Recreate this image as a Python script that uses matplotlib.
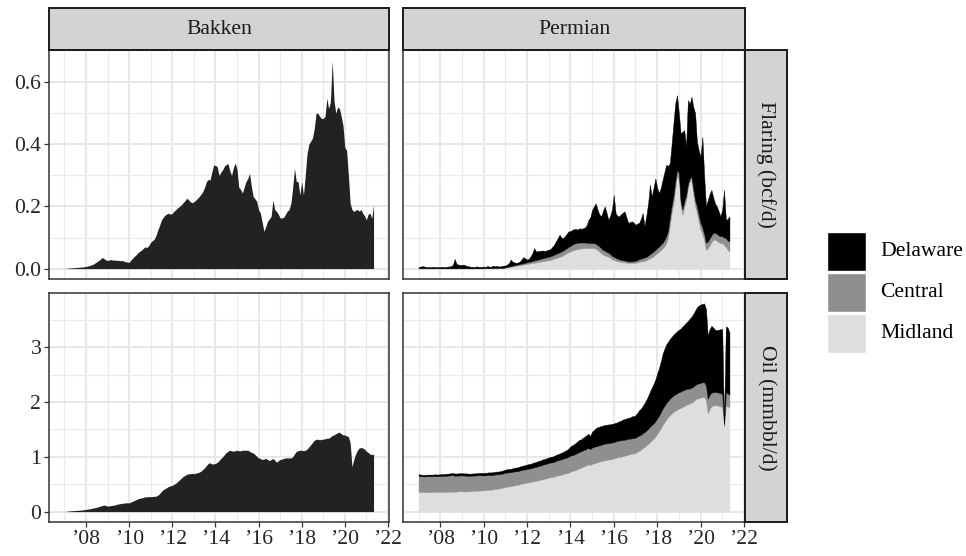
import numpy as np
import matplotlib.pyplot as plt
from matplotlib.patches import Rectangle

plt.rcParams['font.family'] = ['Liberation Serif', 'DejaVu Serif']

# monthly observations, Jan 2007 - May 2021
months = 2007 + np.arange(173) / 12

bakken_flaring = [
    0.000, 0.001, 0.001, 0.002, 0.002, 0.003, 0.003, 0.004, 0.004, 0.005, 0.005, 0.006,
    0.007, 0.008, 0.010, 0.012, 0.014, 0.018, 0.022, 0.026, 0.030, 0.036, 0.032, 0.028,
    0.026, 0.028, 0.029, 0.027, 0.028, 0.026, 0.027, 0.025, 0.026, 0.024, 0.022, 0.021,
    0.020, 0.028, 0.034, 0.040, 0.045, 0.052, 0.056, 0.060, 0.066, 0.070, 0.068, 0.075,
    0.085, 0.090, 0.095, 0.108, 0.125, 0.140, 0.157, 0.165, 0.172, 0.176, 0.178, 0.175,
    0.178, 0.185, 0.190, 0.196, 0.200, 0.205, 0.212, 0.218, 0.226, 0.222, 0.215, 0.212,
    0.215, 0.220, 0.226, 0.232, 0.240, 0.248, 0.262, 0.280, 0.287, 0.285, 0.310, 0.333,
    0.332, 0.328, 0.300, 0.310, 0.318, 0.330, 0.335, 0.338, 0.315, 0.300, 0.325, 0.340,
    0.320, 0.262, 0.255, 0.243, 0.262, 0.280, 0.290, 0.307, 0.265, 0.232, 0.225, 0.216,
    0.190, 0.179, 0.150, 0.120, 0.135, 0.152, 0.160, 0.168, 0.221, 0.190, 0.184, 0.175,
    0.163, 0.163, 0.165, 0.175, 0.185, 0.190, 0.210, 0.260, 0.323, 0.280, 0.280, 0.237,
    0.280, 0.237, 0.300, 0.371, 0.400, 0.410, 0.420, 0.450, 0.500, 0.500, 0.490, 0.483,
    0.483, 0.490, 0.548, 0.515, 0.537, 0.670, 0.540, 0.500, 0.520, 0.515, 0.490, 0.460,
    0.390, 0.380, 0.300, 0.210, 0.190, 0.184, 0.188, 0.190, 0.185, 0.190, 0.178, 0.170,
    0.157, 0.175, 0.178, 0.162, 0.205,
]

bakken_oil = [
    0.00, 0.005, 0.01, 0.012, 0.015, 0.018, 0.02, 0.022, 0.025, 0.028, 0.03, 0.035,
    0.04, 0.045, 0.05, 0.058, 0.065, 0.072, 0.08, 0.09, 0.10, 0.11, 0.12, 0.11,
    0.10, 0.105, 0.11, 0.115, 0.12, 0.13, 0.14, 0.145, 0.15, 0.155, 0.16, 0.16,
    0.16, 0.175, 0.19, 0.205, 0.22, 0.235, 0.245, 0.25, 0.26, 0.27, 0.27, 0.275,
    0.27, 0.275, 0.28, 0.28, 0.30, 0.33, 0.37, 0.40, 0.42, 0.44, 0.46, 0.47,
    0.48, 0.50, 0.52, 0.55, 0.58, 0.61, 0.64, 0.66, 0.68, 0.69, 0.69, 0.70,
    0.69, 0.70, 0.71, 0.72, 0.74, 0.77, 0.80, 0.84, 0.88, 0.89, 0.87, 0.87,
    0.88, 0.90, 0.93, 0.97, 1.00, 1.04, 1.08, 1.10, 1.12, 1.11, 1.10, 1.11,
    1.12, 1.11, 1.11, 1.12, 1.12, 1.12, 1.12, 1.10, 1.08, 1.07, 1.04, 1.01,
    0.98, 0.97, 0.95, 0.96, 0.97, 0.95, 0.93, 0.95, 0.97, 0.94, 0.90, 0.93,
    0.95, 0.96, 0.97, 0.98, 0.98, 0.98, 0.98, 1.00, 1.05, 1.10, 1.11, 1.12,
    1.12, 1.11, 1.12, 1.14, 1.18, 1.22, 1.26, 1.30, 1.32, 1.32, 1.31, 1.32,
    1.32, 1.33, 1.34, 1.34, 1.36, 1.39, 1.40, 1.42, 1.44, 1.45, 1.42, 1.40,
    1.40, 1.38, 1.37, 1.25, 0.82, 0.95, 1.05, 1.12, 1.16, 1.17, 1.16, 1.14,
    1.10, 1.08, 1.05, 1.04, 1.05,
]

# Permian basin, split by sub-basin
midland_flaring = [
    0.0005, 0.0005, 0.0005, 0.0005, 0.0005, 0.0005, 0.0005, 0.0005, 0.0005, 0.0005, 0.0005, 0.0005,
    0.0005, 0.0005, 0.0005, 0.0005, 0.0005, 0.0005, 0.0005, 0.0005, 0.0005, 0.0005, 0.0005, 0.0005,
    0.0005, 0.0005, 0.0005, 0.0005, 0.0005, 0.0005, 0.0005, 0.0005, 0.0005, 0.0005, 0.0005, 0.0005,
    0.001, 0.001, 0.001, 0.001, 0.001, 0.001, 0.002, 0.002, 0.002, 0.002, 0.002, 0.002,
    0.003, 0.004, 0.005, 0.006, 0.007, 0.008, 0.009, 0.010, 0.011, 0.012, 0.013, 0.014,
    0.015, 0.016, 0.017, 0.018, 0.019, 0.020, 0.021, 0.022, 0.023, 0.024, 0.025, 0.026,
    0.027, 0.028, 0.030, 0.032, 0.034, 0.036, 0.038, 0.040, 0.043, 0.046, 0.050, 0.053,
    0.055, 0.058, 0.060, 0.062, 0.063, 0.064, 0.065, 0.066, 0.066, 0.066, 0.066, 0.066,
    0.066, 0.066, 0.064, 0.060, 0.055, 0.050, 0.045, 0.043, 0.040, 0.038, 0.035, 0.030,
    0.028, 0.026, 0.024, 0.023, 0.022, 0.021, 0.020, 0.019, 0.018, 0.018, 0.018, 0.018,
    0.019, 0.020, 0.022, 0.023, 0.024, 0.025, 0.027, 0.030, 0.033, 0.036, 0.040, 0.045,
    0.050, 0.055, 0.060, 0.065, 0.072, 0.082, 0.100, 0.140, 0.180, 0.210, 0.260, 0.300,
    0.290, 0.200, 0.173, 0.200, 0.220, 0.260, 0.280, 0.286, 0.240, 0.200, 0.179, 0.150,
    0.125, 0.110, 0.090, 0.061, 0.065, 0.075, 0.085, 0.093, 0.093, 0.090, 0.085, 0.082,
    0.082, 0.075, 0.070, 0.060, 0.055,
]

central_flaring = [
    0.0005, 0.0005, 0.0005, 0.0005, 0.0005, 0.0005, 0.0005, 0.0005, 0.0005, 0.0005, 0.0005, 0.0005,
    0.0005, 0.0005, 0.0005, 0.0005, 0.0005, 0.0005, 0.0005, 0.0005, 0.0005, 0.0005, 0.0005, 0.0005,
    0.0005, 0.0005, 0.0005, 0.0005, 0.0005, 0.0005, 0.0005, 0.0005, 0.0005, 0.0005, 0.0005, 0.0005,
    0.0005, 0.0005, 0.0005, 0.0005, 0.0005, 0.0005, 0.0005, 0.0005, 0.0005, 0.0005, 0.0005, 0.0005,
    0.001, 0.001, 0.002, 0.002, 0.002, 0.003, 0.003, 0.003, 0.004, 0.004, 0.004, 0.005,
    0.005, 0.006, 0.006, 0.007, 0.007, 0.008, 0.008, 0.009, 0.009, 0.010, 0.010, 0.011,
    0.011, 0.012, 0.012, 0.013, 0.013, 0.014, 0.014, 0.015, 0.015, 0.016, 0.016, 0.017,
    0.018, 0.019, 0.020, 0.020, 0.020, 0.020, 0.019, 0.018, 0.018, 0.017, 0.017, 0.016,
    0.016, 0.016, 0.016, 0.016, 0.016, 0.016, 0.015, 0.015, 0.014, 0.013, 0.012, 0.011,
    0.010, 0.009, 0.008, 0.007, 0.006, 0.006, 0.006, 0.005, 0.005, 0.005, 0.005, 0.006,
    0.006, 0.007, 0.008, 0.009, 0.010, 0.011, 0.011, 0.012, 0.013, 0.014, 0.015, 0.015,
    0.016, 0.016, 0.017, 0.018, 0.020, 0.022, 0.022, 0.022, 0.022, 0.022, 0.020, 0.018,
    0.018, 0.017, 0.017, 0.016, 0.015, 0.012, 0.010, 0.010, 0.015, 0.020, 0.021, 0.022,
    0.022, 0.022, 0.022, 0.022, 0.022, 0.022, 0.022, 0.022, 0.022, 0.022, 0.022, 0.022,
    0.022, 0.025, 0.028, 0.030, 0.033,
]

delaware_flaring = [
    0.004, 0.005, 0.007, 0.006, 0.004, 0.004, 0.004, 0.004, 0.005, 0.004, 0.004, 0.004,
    0.004, 0.005, 0.004, 0.005, 0.005, 0.006, 0.007, 0.011, 0.030, 0.014, 0.012, 0.011,
    0.011, 0.012, 0.009, 0.007, 0.006, 0.005, 0.005, 0.004, 0.006, 0.005, 0.004, 0.005,
    0.005, 0.004, 0.007, 0.005, 0.004, 0.008, 0.005, 0.006, 0.005, 0.004, 0.006, 0.007,
    0.006, 0.008, 0.011, 0.021, 0.013, 0.009, 0.006, 0.007, 0.007, 0.014, 0.020, 0.014,
    0.009, 0.009, 0.017, 0.025, 0.040, 0.027, 0.027, 0.026, 0.026, 0.024, 0.022, 0.022,
    0.023, 0.023, 0.028, 0.032, 0.041, 0.048, 0.057, 0.045, 0.040, 0.043, 0.046, 0.050,
    0.047, 0.048, 0.047, 0.046, 0.042, 0.046, 0.044, 0.046, 0.048, 0.057, 0.074, 0.083,
    0.107, 0.118, 0.130, 0.114, 0.104, 0.102, 0.125, 0.142, 0.126, 0.106, 0.123, 0.149,
    0.199, 0.144, 0.138, 0.138, 0.147, 0.153, 0.158, 0.141, 0.124, 0.127, 0.129, 0.124,
    0.116, 0.118, 0.117, 0.128, 0.145, 0.100, 0.132, 0.168, 0.224, 0.182, 0.205, 0.230,
    0.194, 0.172, 0.183, 0.203, 0.218, 0.230, 0.208, 0.177, 0.198, 0.235, 0.252, 0.240,
    0.192, 0.218, 0.250, 0.230, 0.157, 0.270, 0.240, 0.257, 0.265, 0.280, 0.208, 0.208,
    0.213, 0.292, 0.188, 0.117, 0.133, 0.143, 0.146, 0.115, 0.095, 0.088, 0.078, 0.064,
    0.086, 0.153, 0.059, 0.070, 0.080,
]

midland_oil = [
    0.360, 0.360, 0.360, 0.355, 0.355, 0.355, 0.355, 0.355, 0.355, 0.360, 0.360, 0.360,
    0.360, 0.360, 0.360, 0.360, 0.362, 0.363, 0.364, 0.365, 0.360, 0.365, 0.368, 0.370,
    0.370, 0.368, 0.368, 0.370, 0.372, 0.374, 0.376, 0.378, 0.380, 0.382, 0.384, 0.386,
    0.390, 0.392, 0.395, 0.398, 0.400, 0.405, 0.410, 0.415, 0.420, 0.425, 0.430, 0.440,
    0.450, 0.455, 0.460, 0.465, 0.470, 0.480, 0.485, 0.490, 0.500, 0.510, 0.515, 0.520,
    0.530, 0.535, 0.540, 0.550, 0.555, 0.560, 0.570, 0.575, 0.585, 0.595, 0.600, 0.610,
    0.620, 0.625, 0.630, 0.640, 0.650, 0.660, 0.665, 0.675, 0.685, 0.695, 0.700, 0.710,
    0.730, 0.740, 0.750, 0.760, 0.780, 0.790, 0.800, 0.820, 0.830, 0.850, 0.860, 0.850,
    0.870, 0.880, 0.890, 0.900, 0.910, 0.920, 0.930, 0.940, 0.945, 0.950, 0.955, 0.960,
    0.970, 0.980, 0.990, 1.000, 1.000, 1.010, 1.020, 1.030, 1.040, 1.050, 1.060, 1.060,
    1.070, 1.090, 1.110, 1.130, 1.160, 1.180, 1.210, 1.240, 1.270, 1.300, 1.330, 1.370,
    1.420, 1.470, 1.520, 1.580, 1.630, 1.680, 1.720, 1.760, 1.790, 1.820, 1.840, 1.860,
    1.880, 1.890, 1.910, 1.930, 1.950, 1.960, 1.970, 1.990, 2.010, 2.040, 2.060, 2.070,
    2.080, 2.090, 2.090, 2.030, 1.790, 1.870, 1.920, 1.940, 1.940, 1.940, 1.930, 1.920,
    1.910, 1.550, 1.940, 1.920, 1.910,
]

central_oil = [
    0.290, 0.290, 0.285, 0.285, 0.290, 0.290, 0.290, 0.290, 0.290, 0.290, 0.285, 0.285,
    0.290, 0.290, 0.290, 0.290, 0.295, 0.295, 0.300, 0.300, 0.295, 0.290, 0.290, 0.290,
    0.290, 0.290, 0.290, 0.285, 0.280, 0.280, 0.280, 0.280, 0.280, 0.280, 0.280, 0.275,
    0.270, 0.270, 0.270, 0.270, 0.265, 0.265, 0.265, 0.265, 0.260, 0.260, 0.260, 0.260,
    0.260, 0.260, 0.255, 0.255, 0.255, 0.255, 0.250, 0.250, 0.250, 0.250, 0.250, 0.250,
    0.250, 0.250, 0.250, 0.250, 0.255, 0.255, 0.260, 0.260, 0.260, 0.265, 0.265, 0.265,
    0.270, 0.270, 0.270, 0.270, 0.275, 0.275, 0.280, 0.280, 0.280, 0.285, 0.285, 0.290,
    0.290, 0.290, 0.290, 0.295, 0.295, 0.300, 0.300, 0.300, 0.300, 0.300, 0.300, 0.290,
    0.300, 0.300, 0.300, 0.300, 0.300, 0.300, 0.300, 0.300, 0.300, 0.300, 0.300, 0.300,
    0.300, 0.300, 0.300, 0.300, 0.300, 0.300, 0.290, 0.290, 0.290, 0.280, 0.280, 0.280,
    0.280, 0.280, 0.280, 0.270, 0.270, 0.270, 0.270, 0.270, 0.280, 0.280, 0.280, 0.280,
    0.280, 0.280, 0.290, 0.300, 0.300, 0.300, 0.300, 0.300, 0.300, 0.300, 0.300, 0.300,
    0.300, 0.300, 0.300, 0.290, 0.290, 0.280, 0.280, 0.270, 0.270, 0.270, 0.270, 0.270,
    0.270, 0.270, 0.270, 0.270, 0.270, 0.260, 0.250, 0.240, 0.240, 0.240, 0.240, 0.240,
    0.240, 0.040, 0.240, 0.240, 0.220,
]

delaware_oil = [
    0.030, 0.028, 0.027, 0.026, 0.028, 0.030, 0.030, 0.030, 0.030, 0.031, 0.032, 0.032,
    0.033, 0.034, 0.035, 0.036, 0.036, 0.037, 0.037, 0.038, 0.040, 0.040, 0.040, 0.040,
    0.040, 0.040, 0.040, 0.040, 0.040, 0.040, 0.040, 0.040, 0.040, 0.042, 0.043, 0.044,
    0.045, 0.046, 0.047, 0.048, 0.049, 0.050, 0.050, 0.050, 0.050, 0.052, 0.054, 0.055,
    0.056, 0.058, 0.060, 0.062, 0.064, 0.066, 0.068, 0.070, 0.072, 0.074, 0.076, 0.078,
    0.080, 0.082, 0.084, 0.086, 0.088, 0.090, 0.092, 0.094, 0.096, 0.098, 0.100, 0.100,
    0.100, 0.102, 0.104, 0.106, 0.110, 0.112, 0.115, 0.120, 0.125, 0.130, 0.140, 0.150,
    0.170, 0.180, 0.190, 0.200, 0.210, 0.220, 0.220, 0.230, 0.240, 0.250, 0.260, 0.240,
    0.290, 0.310, 0.330, 0.340, 0.340, 0.340, 0.340, 0.340, 0.340, 0.340, 0.340, 0.340,
    0.340, 0.340, 0.340, 0.350, 0.360, 0.370, 0.380, 0.380, 0.380, 0.390, 0.400, 0.400,
    0.410, 0.430, 0.460, 0.480, 0.500, 0.530, 0.560, 0.600, 0.640, 0.680, 0.720, 0.760,
    0.820, 0.870, 0.930, 1.000, 1.040, 1.070, 1.080, 1.090, 1.100, 1.110, 1.120, 1.130,
    1.140, 1.150, 1.170, 1.190, 1.210, 1.240, 1.270, 1.300, 1.330, 1.360, 1.400, 1.420,
    1.430, 1.430, 1.440, 1.400, 1.150, 1.200, 1.220, 1.180, 1.140, 1.130, 1.150, 1.170,
    1.180, 0.040, 1.200, 1.200, 1.140,
]

for s in (bakken_flaring, bakken_oil, midland_flaring, central_flaring, delaware_flaring,
          midland_oil, central_oil, delaware_oil):
    assert len(s) == len(months), len(s)

basin_names = ['Delaware', 'Central', 'Midland']
basin_colors = {'Delaware': '#000000', 'Central': '#8f8f8f', 'Midland': '#dedede'}
bakken_color = '#222222'
year_ticks = list(range(2008, 2023, 2))
year_labels = ['\u2019%02d' % (y % 100) for y in year_ticks]

# ---------- layout (pixels) ----------
W, H = 966, 556
fig = plt.figure(figsize=(W / 100, H / 100), dpi=100)


def box(x0, y0, x1, y1):
    return [x0 / W, 1 - y1 / H, (x1 - x0) / W, (y1 - y0) / H]


def expanded(lo, hi):
    pad = (hi - lo) * 0.05
    return lo - pad, hi + pad


xlim = expanded(months[0], months[-1])
flare_top = max(max(bakken_flaring),
                max(np.array(midland_flaring) + central_flaring + delaware_flaring))
oil_top = max(max(bakken_oil), max(np.array(midland_oil) + central_oil + delaware_oil))
flare_lim = expanded(0, flare_top)
oil_lim = expanded(0, oil_top)

col_x = [(49, 389), (403, 745)]
row_y = [(50, 279), (293, 522)]
edge = '#333333'
text_size = 15.6


def style_panel(ax, ylim, yticks, yminor, left, bottom):
    ax.set_xlim(*xlim)
    ax.set_ylim(*ylim)
    ax.set_xticks(year_ticks)
    ax.set_xticks(list(range(2007, 2023, 2)), minor=True)
    ax.set_yticks(yticks)
    ax.set_yticks(yminor, minor=True)
    ax.set_axisbelow(True)
    ax.grid(which='major', color='#e8e8e8', linewidth=1.5)
    ax.grid(which='minor', color='#ebebeb', linewidth=0.8)
    for sp in ax.spines.values():
        sp.set_color(edge)
        sp.set_linewidth(1.1)
    ax.tick_params(which='minor', length=0)
    ax.tick_params(which='major', length=3.5, width=0.9, color=edge,
                   labelsize=text_size, labelcolor='#262626', pad=2)
    if bottom:
        ax.set_xticklabels(year_labels)
    else:
        ax.tick_params(axis='x', which='both', bottom=False, labelbottom=False)
    if not left:
        ax.tick_params(axis='y', which='both', left=False, labelleft=False)


def strip(coords, label, rotation=0):
    s = fig.add_axes(box(*coords))
    s.set_facecolor('#d3d3d3')
    s.set_xticks([])
    s.set_yticks([])
    for sp in s.spines.values():
        sp.set_color('#1a1a1a')
        sp.set_linewidth(1.4)
    s.text(0.5, 0.5, label, transform=s.transAxes, ha='center', va='center',
           rotation=rotation, fontsize=text_size, color='#1a1a1a')


flare_ticks = [0.0, 0.2, 0.4, 0.6]
oil_ticks = [0, 1, 2, 3]
stack_colors = [basin_colors['Midland'], basin_colors['Central'], basin_colors['Delaware']]

# Bakken flaring
ax = fig.add_axes(box(col_x[0][0], row_y[0][0], col_x[0][1], row_y[0][1]))
ax.fill_between(months, 0, bakken_flaring, color=bakken_color, linewidth=0)
style_panel(ax, flare_lim, flare_ticks, [0.1, 0.3, 0.5], True, False)
ax.set_yticklabels(['0.0', '0.2', '0.4', '0.6'])

# Permian flaring
ax = fig.add_axes(box(col_x[1][0], row_y[0][0], col_x[1][1], row_y[0][1]))
ax.stackplot(months, midland_flaring, central_flaring, delaware_flaring,
             colors=stack_colors, linewidth=0.3, edgecolor='face')
style_panel(ax, flare_lim, flare_ticks, [0.1, 0.3, 0.5], False, False)

# Bakken oil
ax = fig.add_axes(box(col_x[0][0], row_y[1][0], col_x[0][1], row_y[1][1]))
ax.fill_between(months, 0, bakken_oil, color=bakken_color, linewidth=0)
style_panel(ax, oil_lim, oil_ticks, [0.5, 1.5, 2.5, 3.5], True, True)

# Permian oil
ax = fig.add_axes(box(col_x[1][0], row_y[1][0], col_x[1][1], row_y[1][1]))
ax.stackplot(months, midland_oil, central_oil, delaware_oil,
             colors=stack_colors, linewidth=0.3, edgecolor='face')
style_panel(ax, oil_lim, oil_ticks, [0.5, 1.5, 2.5, 3.5], False, True)

# facet strips
strip((49, 8, 389, 50), 'Bakken')
strip((403, 8, 745, 50), 'Permian')
strip((745, 50, 787, 279), 'Flaring (bcf/d)', rotation=-90)
strip((745, 293, 787, 522), 'Oil (mmbbl/d)', rotation=-90)

# legend
key_top = 232
for name in basin_names:
    fig.add_artist(Rectangle((827 / W, 1 - (key_top + 39) / H), 39 / W, 39 / H,
                             transform=fig.transFigure, facecolor=basin_colors[name],
                             edgecolor='white', linewidth=1))
    fig.text(880 / W, 1 - (key_top + 19.5) / H, name, ha='left', va='center',
             fontsize=text_size, color='black')
    key_top += 41

fig.savefig('out.png', dpi=100)
